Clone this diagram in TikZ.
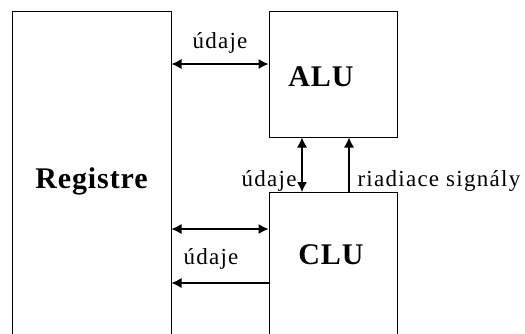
\documentclass[tikz,border=0pt]{standalone}
\usepackage{fontspec}
\setmainfont{Liberation Serif}
\usetikzlibrary{arrows.meta}
\tikzset{
  blok/.style={draw, line width=1pt, inner sep=0pt, font=\fontsize{30}{36}\selectfont\bfseries\addfontfeatures{LetterSpace=3}},
  popis/.style={font=\fontsize{23}{27}\selectfont\addfontfeatures{LetterSpace=5.5}, inner sep=0pt},
  sip/.style={line width=1.1pt, -{Latex[length=10pt,width=10pt]}},
  dvojsip/.style={line width=1.1pt, {Latex[length=10pt,width=10pt]}-{Latex[length=10pt,width=10pt]}}
}
\begin{document}
\begin{tikzpicture}[x=1pt,y=-1pt]
  \useasboundingbox (0,0) rectangle (525,333);
  %bloky
    \node[blok, minimum width=159pt, minimum height=340pt] (reg) at (91.5,181) {Registre};
    \node[blok, minimum width=128pt, minimum height=126pt] (alu) at (333,74) {};
    \node[blok, draw=none] (alunazov) at ([xshift=-12pt,yshift=-3pt]alu.center) {ALU};
    \node[blok, minimum width=128pt, minimum height=160pt, anchor=north] (clu) at (333,192) {};
    \node[blok, draw=none] (clunazov) at ([xshift=-2pt,yshift=-63pt]clu.north) {CLU};
  %vodorovne sipky
    \coordinate (h1) at ([yshift=10pt]alu.west);
    \coordinate (h2) at ([yshift=-37pt]clu.north west);
    \coordinate (h3) at ([yshift=-91pt]clu.north west);
    \draw[dvojsip] (reg.east |- h1) -- (h1) node[popis, midway, above=10pt] {údaje};
    \draw[dvojsip] (reg.east |- h2) -- (h2);
    \draw[sip] (h3) -- (reg.east |- h3) node[popis, midway, above=13pt, xshift=-9pt] {údaje};
  %zvisle sipky
    \coordinate (v1) at ([xshift=-31pt]clu.north);
    \coordinate (v2) at ([xshift=16pt]clu.north);
    \draw[dvojsip] (v1) -- (alu.south -| v1) node[pos=0, popis, anchor=base east, xshift=-5pt, yshift=6pt] {údaje};
    \draw[sip] (v2) -- (alu.south -| v2) node[pos=0, popis, anchor=base west, xshift=8pt, yshift=6pt] {riadiace signály};
\end{tikzpicture}
\end{document}
